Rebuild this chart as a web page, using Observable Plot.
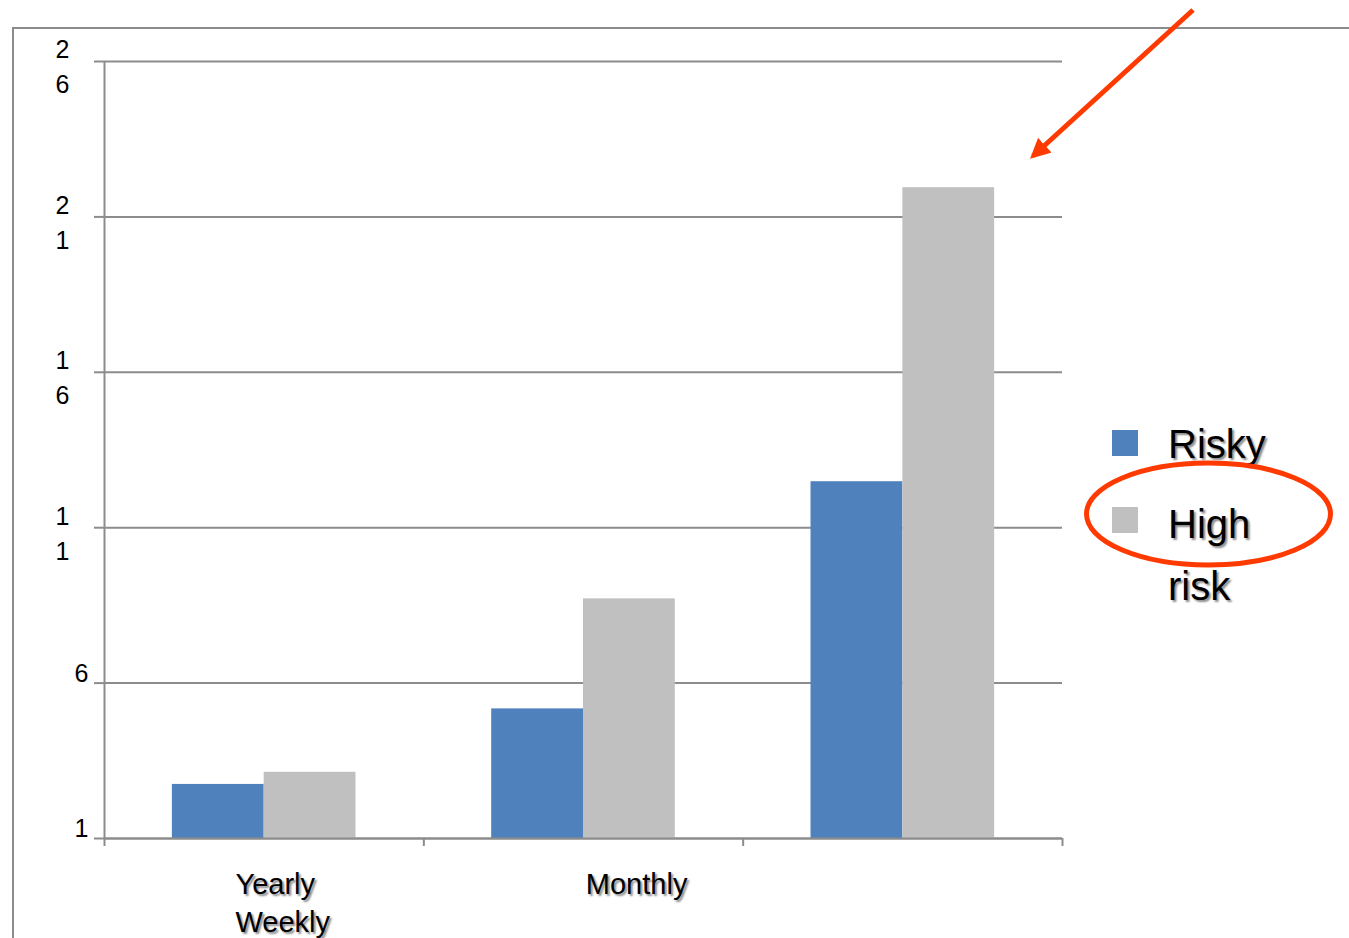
<!DOCTYPE html>
<html>
<head>
<meta charset="utf-8">
<script src="https://cdn.jsdelivr.net/npm/d3@7"></script>
<script src="https://cdn.jsdelivr.net/npm/@observablehq/plot@0.6"></script>
<style>
  html, body { margin: 0; padding: 0; background: #fff; }
  #wrap { position: relative; width: 1349px; height: 938px; overflow: hidden; font-family: "Liberation Sans", Arial, sans-serif; }
  #frame { position: absolute; left: 12px; top: 27px; width: 1400px; height: 1000px; border-top: 2px solid #8c8c8c; border-left: 2px solid #8c8c8c; }
  #chart { position: absolute; left: 0; top: 0; }
  #anno { position: absolute; left: 0; top: 0; pointer-events: none; }
  .shadow text, text.shadow { text-shadow: 2px 2px 2px #8a8a8a; }
</style>
</head>
<body>
<div id="wrap">
  <div id="frame"></div>
  <div id="chart"></div>
  <svg id="anno" width="1349" height="938"></svg>
</div>
<script>
// ---- data ----
const categories = ["Yearly", "Monthly", "Weekly"];
const seriesNames = ["Risky", "High risk"];
const riskyValues = [2.74, 5.17, 12.48];
const highRiskValues = [3.13, 8.71, 21.94];
const yTicks = [1, 6, 11, 16, 21, 26];
const seriesColors = ["#4f81bd", "#c0c0c0"];

const rows = [];
categories.forEach((c, i) => {
  rows.push({cat: c, idx: i, series: seriesNames[0], value: riskyValues[i]});
  rows.push({cat: c, idx: i, series: seriesNames[1], value: highRiskValues[i]});
});
const barStart = {"Risky": 0.2125, "High risk": 0.5};
const barWidth = 0.2875;
const grid = "#8c8c8c";
const font = "Liberation Sans, Arial, sans-serif";

const plot = Plot.plot({
  width: 1349,
  height: 938,
  marginLeft: 104,
  marginRight: 287,
  marginTop: 61,
  marginBottom: 100,
  style: {fontFamily: font, background: "transparent", overflow: "visible"},
  x: {domain: [0, categories.length], axis: null},
  y: {domain: [1, 26], axis: null},
  color: {domain: seriesNames, range: seriesColors},
  marks: [
    Plot.ruleY(yTicks, {stroke: grid, strokeWidth: 2}),
    Plot.axisY({ticks: yTicks, tickSize: 10, tickFormat: () => "", label: null, stroke: grid, strokeWidth: 2, strokeOpacity: 1}),
    Plot.rectY(rows, {
      x1: d => d.idx + barStart[d.series],
      x2: d => d.idx + barStart[d.series] + barWidth,
      y1: 1, y2: "value", fill: "series"
    }),
    Plot.ruleX([0], {stroke: grid, strokeWidth: 2}),
    Plot.ruleY([1], {stroke: grid, strokeWidth: 2}),
    Plot.axisX({ticks: d3.range(categories.length + 1), tickSize: 8, tickFormat: () => "", label: null, stroke: grid, strokeWidth: 2, strokeOpacity: 1}),
    // y tick labels (wrapped digits)
    Plot.text(yTicks.filter(d => d >= 10), {
      y: d => d, text: d => String(d).split("").join("\n"),
      frameAnchor: "left", dx: -42, dy: -28, textAnchor: "middle", lineAnchor: "top",
      lineHeight: 1.4, fontSize: 25, fill: "#000"
    }),
    Plot.text(yTicks.filter(d => d < 10), {
      y: d => d, text: d => String(d),
      frameAnchor: "left", dx: -16, dy: -19, textAnchor: "end", lineAnchor: "top",
      fontSize: 25, fill: "#000"
    }),
    // category labels
    Plot.text([categories[0]], {x: 0, y: 1, text: d => d, dx: 131, dy: 46, textAnchor: "start", fontSize: 29, fill: "#000", className: "shadow"}),
    Plot.text([categories[1]], {x: 1, y: 1, text: d => d, dx: 162, dy: 46, textAnchor: "start", fontSize: 29, fill: "#000", className: "shadow"}),
    Plot.text([categories[2]], {x: 0, y: 1, text: d => d, dx: 131, dy: 84, textAnchor: "start", fontSize: 29, fill: "#000", className: "shadow"})
  ]
});
document.getElementById("chart").appendChild(plot);

// ---- legend & annotations ----
const anno = d3.select("#anno");
const lg = anno.append("g").attr("class", "shadow").style("font-family", font);
const legendItems = [
  {name: seriesNames[0], color: seriesColors[0], lines: ["Risky"], y: 430},
  {name: seriesNames[1], color: seriesColors[1], lines: ["High", "risk"], y: 507}
];
legendItems.forEach(it => {
  lg.append("rect").attr("x", 1112).attr("y", it.y).attr("width", 26).attr("height", 26).attr("fill", it.color);
  it.lines.forEach((t, j) => {
    lg.append("text").attr("x", 1168).attr("y", it.y + 28 + (it.lines.length > 1 ? 3 : 0) + j * 62).attr("font-size", 40).attr("fill", "#000").text(t);
  });
});

const red = "#ff3a00";
anno.append("ellipse").attr("cx", 1208.5).attr("cy", 514).attr("rx", 122).attr("ry", 51)
  .attr("fill", "none").attr("stroke", red).attr("stroke-width", 5);
const defs = anno.append("defs");
defs.append("marker").attr("id", "ah").attr("viewBox", "0 0 10 10").attr("refX", 8).attr("refY", 5)
  .attr("markerWidth", 4).attr("markerHeight", 4).attr("orient", "auto")
  .append("path").attr("d", "M0,0 L10,5 L0,10 z").attr("fill", red);
anno.append("line").attr("x1", 1193).attr("y1", 10).attr("x2", 1033).attr("y2", 156)
  .attr("stroke", red).attr("stroke-width", 5).attr("marker-end", "url(#ah)");
</script>
</body>
</html>
